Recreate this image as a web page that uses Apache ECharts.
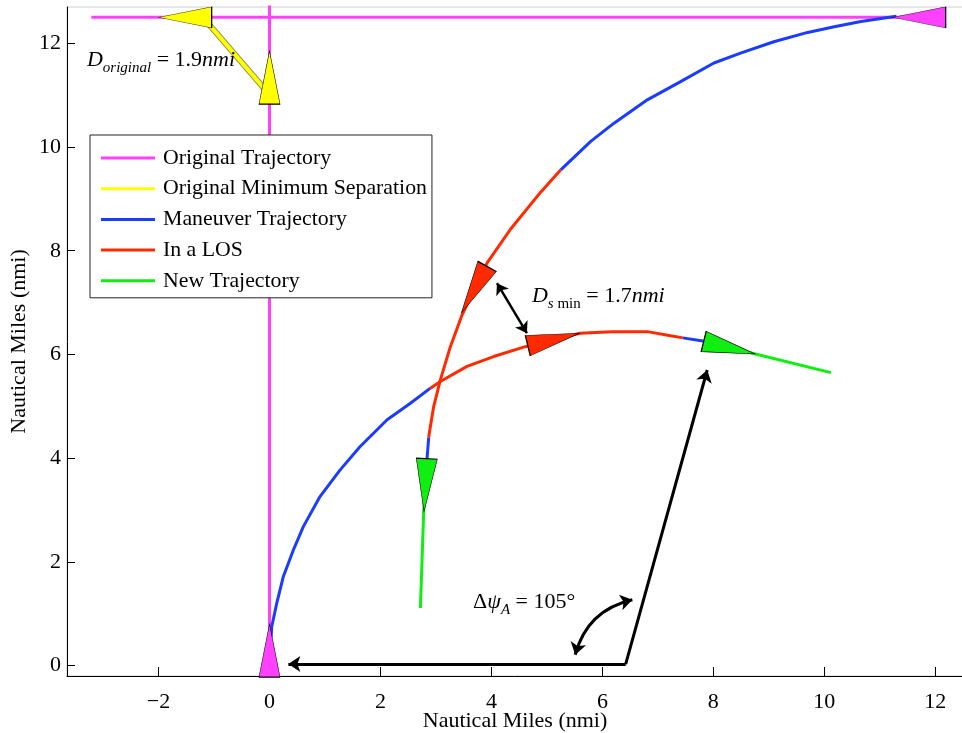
<!DOCTYPE html>
<html><head><meta charset="utf-8">
<script src="https://cdn.jsdelivr.net/npm/echarts@6/dist/echarts.min.js"></script>
<style>html,body{margin:0;padding:0;background:#fff}#c{width:962px;height:733px}</style>
</head><body><div id="c"></div>
<script>
// ---- data ----
const xTicks = [-2, 0, 2, 4, 6, 8, 10, 12];
const yTicks = [0, 2, 4, 6, 8, 10, 12];
const origHoriz = [[-3.21, 12.5], [11.71, 12.5]];
const origVert = [[0, 0.29], [0, 12.75]];
const minSep = [[-1.2, 12.5], [0, 11.01]];
// aircraft A (starts at origin)
const aBlue1 = [[0.03,0.55],[0.04,0.75],[0.13,1.20],[0.25,1.72],[0.43,2.23],[0.61,2.68],[0.91,3.26],[1.27,3.77],[1.63,4.22],[2.12,4.74],[2.54,5.06],[2.90,5.35]];
const aRed = [[2.90,5.35],[3.08,5.48],[3.56,5.77],[4.04,5.96],[4.61,6.15],[5.10,6.29],[5.60,6.41],[5.97,6.43],[6.20,6.44],[6.81,6.44],[7.23,6.36],[7.45,6.32]];
const aBlue2 = [[7.45,6.32],[7.81,6.26],[7.95,6.22]];
const aGreen = [[7.95,6.22],[8.29,6.13],[8.76,6.01],[10.12,5.65]];
// aircraft B (starts top right)
const bBlue1 = [[11.3,12.52],[10.66,12.42],[10.18,12.32],[9.70,12.21],[9.09,12.03],[8.49,11.81],[8.01,11.62],[7.41,11.26],[6.81,10.91],[6.21,10.46],[5.79,10.11],[5.25,9.56]];
const bRed = [[5.25,9.56],[4.88,9.12],[4.34,8.41],[3.92,7.76],[3.69,7.25],[3.47,6.76],[3.26,6.15],[3.08,5.51],[2.96,5.00],[2.88,4.48],[2.87,4.40]];
const bBlue2 = [[2.87,4.40],[2.84,4.00],[2.82,3.60]];
const bGreen = [[2.82,3.60],[2.78,3.00],[2.72,1.11]];
// aircraft markers: [x, y, rotation deg]
const magentaTris = [[0, 0.29, 0], [11.71, 12.5, 90]];
const yellowTris = [[-1.52, 12.5, 90], [0, 11.34, 0]];
const redTris = [[3.69, 7.25, 151], [5.12, 6.29, -76.5]];
const greenTris = [[8.29, 6.13, -103.7], [2.81, 3.48, 177]];
// annotation arrows
const dsArrow = [[4.10, 7.375], [4.64, 6.41]];
const headingCorner = [6.42, 0.03];
const headingLeftEnd = [0.34, 0.03];
const headingTopEnd = [7.89, 5.70];
const angleArrow = [[5.51, 0.21], [6.54, 1.27]];
// annotation label anchors
const labelDorig = [-3.29, 11.67];
const labelDsmin = [4.73, 7.12];
const labelPsi = [3.67, 1.22];

// ---- styles ----
const FONT = 'Liberation Serif';
const C = { m: '#ff40ff', y: '#ffff00', b: '#1a3cff', r: '#ff2a00', g: '#11ee11' };

function lineS(name, data, color, width, z) {
  return { type: 'line', name: name, data: data, showSymbol: false, symbol: 'none',
    lineStyle: { color: color, width: width }, itemStyle: { color: color },
    z: z || 2, silent: true, animation: false };
}
function triS(name, tris, color) {
  return { type: 'scatter', name: name, symbol: 'triangle', symbolSize: [21, 53],
    data: tris.map(t => ({ value: [t[0], t[1]], symbolRotate: t[2] })),
    itemStyle: { color: color, borderColor: '#000', borderWidth: 0.8, opacity: 1 },
    z: 5, silent: true, animation: false };
}
const rich = {
  it: { fontFamily: FONT, fontSize: 22, fontStyle: 'italic', lineHeight: 30, verticalAlign: 'middle', color: '#000' },
  up: { fontFamily: FONT, fontSize: 22, lineHeight: 30, verticalAlign: 'middle', color: '#000' },
  subi: { fontFamily: FONT, fontSize: 15, fontStyle: 'italic', lineHeight: 30, verticalAlign: 'bottom', color: '#000' },
  subu: { fontFamily: FONT, fontSize: 15, lineHeight: 30, verticalAlign: 'bottom', color: '#000' }
};
function labelS(name, pos, fmt) {
  return { type: 'scatter', name: name, symbolSize: 0, data: [pos], z: 7, silent: true, animation: false,
    itemStyle: { color: '#000', opacity: 1 },
    label: { show: true, position: 'right', distance: 0, formatter: fmt, color: '#000',
      fontFamily: FONT, fontSize: 22, rich: rich } };
}
function arrowS(name, coords, curveness, width, size, sym) {
  return { type: 'lines', name: name, coordinateSystem: 'cartesian2d',
    symbol: sym, symbolSize: size,
    lineStyle: { color: '#000', width: width, curveness: curveness, opacity: 1 },
    data: [{ coords: coords }], z: 6, silent: true, animation: false };
}

const axisCommon = {
  type: 'value',
  axisLine: { show: true, onZero: false, lineStyle: { color: '#000', width: 1 } },
  splitLine: { show: false },
  nameLocation: 'middle',
  nameMoveOverlap: false,
  nameTextStyle: { fontFamily: FONT, fontSize: 22, color: '#000', verticalAlign: 'middle' },
};

const option = {
  backgroundColor: '#fff',
  animation: false,
  grid: { left: 67, top: 7, width: 896, height: 669, show: true, borderColor: '#cfcfcf', borderWidth: 1,
    containLabel: false, outerBoundsMode: 'none' },
  xAxis: Object.assign({}, axisCommon, {
    min: -3.65, max: 12.5, name: 'Nautical Miles (nmi)', nameGap: 45,
    axisTick: { show: true, inside: true, length: 9, customValues: xTicks, lineStyle: { color: '#000' } },
    axisLabel: { customValues: xTicks, formatter: v => String(v).replace('-', '\u2212'), fontFamily: FONT, fontSize: 22, color: '#000', margin: 15 }
  }),
  yAxis: Object.assign({}, axisCommon, {
    min: -0.2, max: 12.7, name: 'Nautical Miles (nmi)', nameGap: 48,
    axisTick: { show: true, inside: true, length: 8, customValues: yTicks, lineStyle: { color: '#000' } },
    axisLabel: { customValues: yTicks, fontFamily: FONT, fontSize: 22, color: '#000', margin: 6 }
  }),
  legend: {
    orient: 'vertical', left: 90, top: 135,
    data: [
      { name: 'Original Trajectory', icon: 'rect' },
      { name: 'Original Minimum Separation', icon: 'rect' },
      { name: 'Maneuver Trajectory', icon: 'rect' },
      { name: 'In a LOS', icon: 'rect' },
      { name: 'New Trajectory', icon: 'rect' }
    ],
    itemWidth: 54, itemHeight: 3, itemGap: 8.7,
    padding: [12, 5, 6, 11],
    backgroundColor: '#fff', borderColor: '#222', borderWidth: 1, borderRadius: 0,
    selectedMode: false,
    textStyle: { fontFamily: FONT, fontSize: 21.8, color: '#000', lineHeight: 22, padding: [0, 0, 0, 3] }
  },
  series: [
    lineS('Original Trajectory', origHoriz, C.m, 3),
    lineS('Original Trajectory', origVert, C.m, 3),
    lineS('minSepEdge', minSep, '#8a8a50', 6, 3),
    lineS('Original Minimum Separation', minSep, C.y, 4, 3),
    lineS('Maneuver Trajectory', aBlue1, C.b, 3),
    lineS('Maneuver Trajectory', bBlue1, C.b, 3),
    lineS('Maneuver Trajectory', aBlue2, C.b, 3),
    lineS('Maneuver Trajectory', bBlue2, C.b, 3),
    lineS('In a LOS', aRed, C.r, 3, 3),
    lineS('In a LOS', bRed, C.r, 3, 3),
    lineS('New Trajectory', aGreen, C.g, 3),
    lineS('New Trajectory', bGreen, C.g, 3),
    triS('triM', magentaTris, C.m),
    triS('triY', yellowTris, C.y),
    triS('triR', redTris, C.r),
    triS('triG', greenTris, C.g),
    arrowS('arrDs', dsArrow, 0, 2.5, 11, ['arrow', 'arrow']),
    arrowS('arrHeadingL', [headingCorner, headingLeftEnd], 0, 3, 12, ['none', 'arrow']),
    arrowS('arrHeadingU', [headingCorner, headingTopEnd], 0, 3, 12, ['none', 'arrow']),
    arrowS('arrAngle', angleArrow, 0.3, 3, 12, ['arrow', 'arrow']),
    labelS('lblDorig', labelDorig, '{it|D}{subi|original}{up| = 1.9}{it|nmi}'),
    labelS('lblDsmin', labelDsmin, '{it|D}{subi|s}{subu| min}{up| = 1.7}{it|nmi}'),
    labelS('lblPsi', labelPsi, '{up|\u0394}{it|\u03C8}{subi|A}{up| = 105\u00B0}')
  ]
};
const chart = echarts.init(document.getElementById('c'), null, { renderer: 'canvas' });
chart.setOption(option);
</script>
</body></html>
